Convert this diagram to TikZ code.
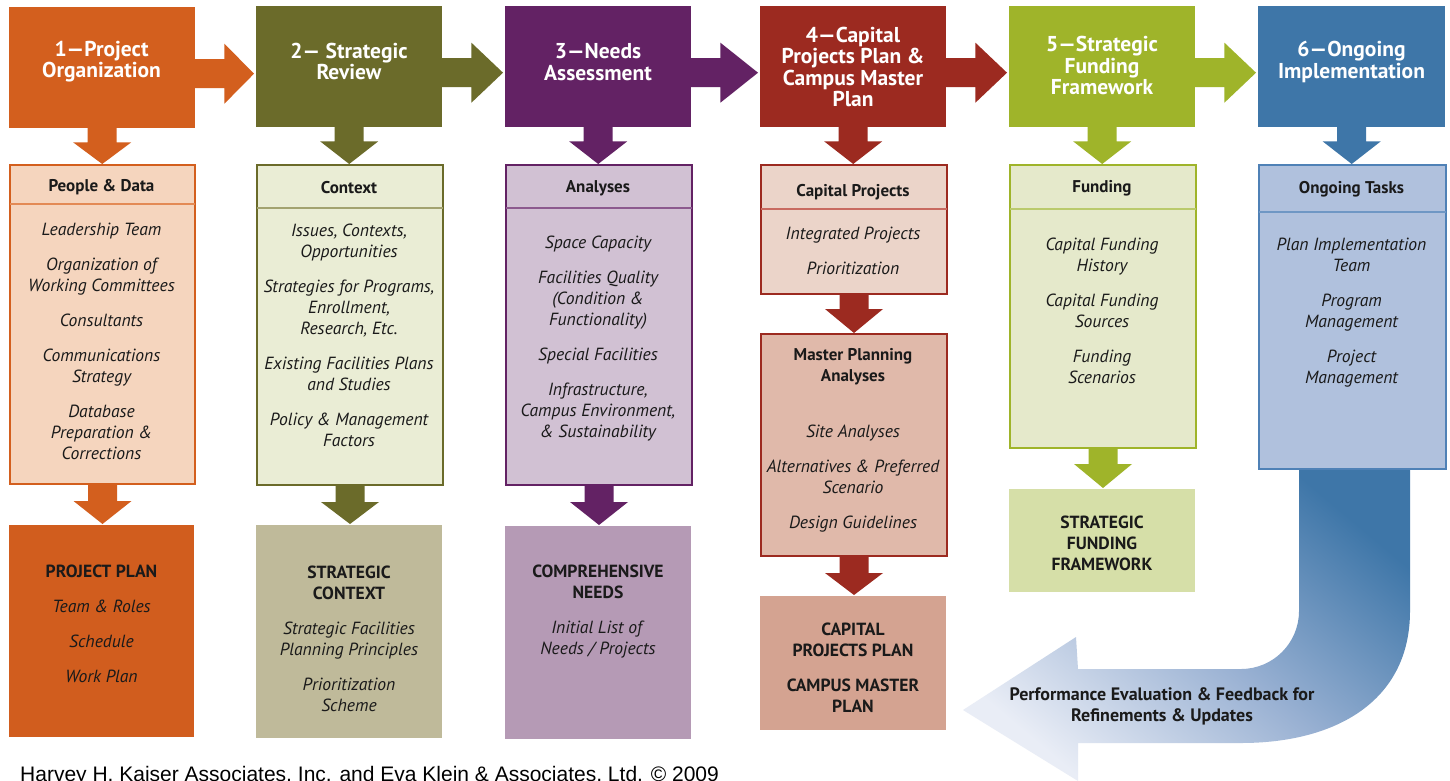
\documentclass[tikz,border=0pt]{standalone}
\usepackage{fontspec}
\setmainfont{PT Sans}
\newfontfamily\footfont{Liberation Sans}
\usetikzlibrary{calc}
\definecolor{cA}{HTML}{D35F1E}\definecolor{cAm}{HTML}{F5D5BE}\definecolor{cAl}{HTML}{E38A55}\definecolor{cAb}{HTML}{D15D1E}
\definecolor{cB}{HTML}{6B6B2A}\definecolor{cBm}{HTML}{EAEDD5}\definecolor{cBl}{HTML}{A3A370}\definecolor{cBb}{HTML}{BFBA9A}
\definecolor{cC}{HTML}{632264}\definecolor{cCm}{HTML}{D1C1D3}\definecolor{cCl}{HTML}{8C5A8E}\definecolor{cCb}{HTML}{B59AB5}
\definecolor{cD}{HTML}{9C2A20}\definecolor{cDm}{HTML}{EBD4C9}\definecolor{cDn}{HTML}{E0B9AA}\definecolor{cDl}{HTML}{C86A60}\definecolor{cDb}{HTML}{D4A391}
\definecolor{cE}{HTML}{9FB42A}\definecolor{cEm}{HTML}{E5E9CB}\definecolor{cEl}{HTML}{BACA6C}\definecolor{cEb}{HTML}{D6DFA8}
\definecolor{cF}{HTML}{3E76A8}\definecolor{cFm}{HTML}{B0C1DD}\definecolor{cFd}{HTML}{4F81B6}\definecolor{cFl}{HTML}{6F97C4}
\definecolor{cFlight}{HTML}{E9EDF6}\definecolor{cFmid}{HTML}{98B0D2}\definecolor{txt}{HTML}{1A1A1A}
\newcommand\darr[4]{%
  \fill[#3] ($(#1.south)+(-14.5,-1)$) -- ($(#1.south)+(-14.5,#4)$) -- ($(#1.south)+(-29,#4)$)
   -- ($(#1.south |- #2.north)+(0,-1)$) -- ($(#1.south)+(29,#4)$) -- ($(#1.south)+(14.5,#4)$)
   -- ($(#1.south)+(14.5,-1)$) -- cycle;}
\newcommand\rarr[3]{%
  \fill[#3] ($(#1.east)+(-1,-8.5)$) -- ($(#1.east)+(29,-8.5)$) -- ($(#1.east)+(29,-24)$)
   -- ($(#2.west |- #1.east)+(-2,6)$) -- ($(#1.east)+(29,36)$) -- ($(#1.east)+(29,20.5)$)
   -- ($(#1.east)+(-1,20.5)$) -- cycle;}
\begin{document}
\begin{tikzpicture}[x=1pt,y=-1pt,
  hbox/.style={fill=#1, anchor=north west, minimum width=186, minimum height=121, inner sep=0},
  mbox/.style={anchor=north west, line width=2pt, inner sep=0},
  bbox/.style={fill=#1, anchor=north west, inner sep=0},
  htext/.style={text=white, align=center, inner sep=0, font=\bfseries\fontsize{21.5}{21.5}\selectfont},
  mhead/.style={text=txt, align=center, inner sep=0, font=\bfseries\fontsize{17}{21}\selectfont},
  mbody/.style={text=txt, align=center, inner sep=0, font=\itshape\fontsize{17.6}{21}\selectfont},
  bhead/.style={text=txt, align=center, inner sep=0, font=\fontsize{17.6}{21}\selectfont},
  fbhead/.style={text=txt, align=center, inner sep=0, font=\bfseries\fontsize{18}{21}\selectfont},
]
\useasboundingbox (0,0) rectangle (1450,780);
\fill[white] (0,0) rectangle (1450,780);

% header boxes
\node[hbox=cA] (h1) at (9,7) {};
\node[hbox=cB] (h2) at (256,6) {};
\node[hbox=cC] (h3) at (505,6) {};
\node[hbox=cD] (h4) at (760,6) {};
\node[hbox=cE] (h5) at (1009,6) {};
\node[hbox=cF, minimum width=187] (h6) at (1258,6) {};

% middle boxes (nodes defined first, drawn after arrows)
\path node[mbox, minimum width=183, minimum height=317] (m1) at (10,165) {}
      node[mbox, minimum width=184, minimum height=318] (m2) at (257,165) {}
      node[mbox, minimum width=184, minimum height=318] (m3) at (506,165) {}
      node[mbox, minimum width=184, minimum height=127] (m4a) at (761,165) {}
      node[mbox, minimum width=184, minimum height=220] (m4b) at (761,334) {}
      node[mbox, minimum width=184, minimum height=281] (m5) at (1010,165) {}
      node[mbox, minimum width=185, minimum height=302] (m6) at (1259,165) {};

% bottom boxes
\node[bbox=cAb, minimum width=185, minimum height=212] (b1) at (9,525) {};
\node[bbox=cBb, minimum width=186, minimum height=213] (b2) at (256,525) {};
\node[bbox=cCb, minimum width=186, minimum height=213] (b3) at (505,526) {};
\node[bbox=cDb, minimum width=186, minimum height=134] (b4) at (760,596) {};
\node[bbox=cEb, minimum width=186, minimum height=103] (b5) at (1009,489) {};

% feedback arrow
\begin{scope}[shift={(m6.south)}]
\coordinate (fbtip) at (-389.5,241);
\shade[top color=cF, bottom color=cFlight, middle color=cFmid, shading angle=-40]
  (-53.5,-1) -- (-53.5,142) arc[start angle=0, end angle=90, radius=58]
  -- (-274.5,200) -- (-276.5,168) -- (fbtip) -- (-274.5,312) -- (-274.5,274)
  -- (-111.5,274) .. controls (-16.5,274) and (57.5,232) .. (57.5,142) -- (57.5,-1) -- cycle;
\end{scope}

% right arrows
\rarr{h1}{h2}{cA}
\rarr{h2}{h3}{cB}
\rarr{h3}{h4}{cC}
\rarr{h4}{h5}{cD}
\rarr{h5}{h6}{cE}

% down arrows
\darr{h1}{m1}{cA}{14}
\darr{h2}{m2}{cB}{14}
\darr{h3}{m3}{cC}{14}
\darr{h4}{m4a}{cD}{14}
\darr{h5}{m5}{cE}{14}
\darr{h6}{m6}{cF}{14}
\darr{m1}{b1}{cA}{17}
\darr{m2}{b2}{cB}{17}
\darr{m3}{b3}{cC}{17}
\darr{m4a}{m4b}{cD}{15}
\darr{m4b}{b4}{cD}{17}
\darr{m5}{b5}{cE}{16}

% draw middle boxes
\draw[line width=2pt, draw=cA, fill=cAm] (m1.north west) rectangle (m1.south east);
\draw[line width=2pt, draw=cB, fill=cBm] (m2.north west) rectangle (m2.south east);
\draw[line width=2pt, draw=cC, fill=cCm] (m3.north west) rectangle (m3.south east);
\draw[line width=2pt, draw=cD, fill=cDm] (m4a.north west) rectangle (m4a.south east);
\draw[line width=2pt, draw=cD, fill=cDn] (m4b.north west) rectangle (m4b.south east);
\draw[line width=2pt, draw=cE, fill=cEm] (m5.north west) rectangle (m5.south east);
\draw[line width=2pt, draw=cFd, fill=cFm] (m6.north west) rectangle (m6.south east);
% dividers
\draw[line width=1.3pt, cAl] ($(m1.north west)+(0,39)$) -- ($(m1.north east)+(0,39)$);
\draw[line width=1.3pt, cBl] ($(m2.north west)+(0,43)$) -- ($(m2.north east)+(0,43)$);
\draw[line width=1.3pt, cCl] ($(m3.north west)+(0,43)$) -- ($(m3.north east)+(0,43)$);
\draw[line width=1.3pt, cDl] ($(m4a.north west)+(0,44)$) -- ($(m4a.north east)+(0,44)$);
\draw[line width=1.3pt, cEl] ($(m5.north west)+(0,44)$) -- ($(m5.north east)+(0,44)$);
\draw[line width=1.3pt, cFl] ($(m6.north west)+(0,47)$) -- ($(m6.north east)+(0,47)$);

% header texts
\node[htext] (t1) at (101.5,61.5) {1—Project\\Organization};
\node[htext] (t2) at (349,61.5) {2— Strategic\\Review};
\node[htext] (t3) at (598,62) {3—Needs\\Assessment};
\node[htext] (t4) at (853,67) {4—Capital\\Projects Plan \&\\Campus Master\\Plan};
\node[htext] (t5) at (1102,65.5) {5—Strategic\\Funding\\Framework};
\node[htext] (t6) at (1351.5,62) {6—Ongoing\\Implementation};

% middle headings
\node[mhead] (m1h) at (101.5,187) {People \& Data};
\node[mhead] (m2h) at (349,188) {Context};
\node[mhead] (m3h) at (598,188) {Analyses};
\node[mhead] (m4ah) at (853,192) {Capital Projects};
\node[mhead] (m4bh) at (853,367) {Master Planning\\Analyses};
\node[mhead] (m5h) at (1102,188) {Funding};
\node[mhead] (m6h) at (1351.5,189) {Ongoing Tasks};

% middle bodies
\node[mbody] (m1t) at (101.5,341) {Leadership Team\\[14pt]Organization of\\Working Committees\\[14pt]Consultants\\[14pt]Communications\\Strategy\\[14pt]Database\\Preparation \&\\Corrections};
\node[mbody] (m2t) at (349,335.5) {Issues, Contexts,\\Opportunities\\[14pt]Strategies for Programs,\\Enrollment,\\Research, Etc.\\[14pt]Existing Facilities Plans\\and Studies\\[14pt]Policy \& Management\\Factors};
\node[mbody] (m3t) at (598,339) {Space Capacity\\[14pt]Facilities Quality\\(Condition \&\\Functionality)\\[14pt]Special Facilities\\[14pt]Infrastructure,\\Campus Environment,\\\& Sustainability};
\node[mbody] (m4at) at (853,251) {Integrated Projects\\[14pt]Prioritization};
\node[mbody] (m4bt) at (853,479) {Site Analyses\\[14pt]Alternatives \& Preferred\\Scenario\\[14pt]Design Guidelines};
\node[mbody] (m5t) at (1102,311) {Capital Funding\\History\\[14pt]Capital Funding\\Sources\\[14pt]Funding\\Scenarios};
\node[mbody] (m6t) at (1351.5,312.5) {Plan Implementation\\Team\\[14pt]Program\\Management\\[14pt]Project\\Management};

% bottom texts
\node[bhead] (b1t) at (101.5,624) {\textbf{PROJECT PLAN}\\[14pt]\textit{Team \& Roles}\\[14pt]\textit{Schedule}\\[14pt]\textit{Work Plan}};
\node[bhead] (b2t) at (349,639) {\textbf{STRATEGIC}\\\textbf{CONTEXT}\\[14pt]\textit{Strategic Facilities}\\\textit{Planning Principles}\\[14pt]\textit{Prioritization}\\\textit{Scheme}};
\node[bhead] (b3t) at (598,612) {\textbf{COMPREHENSIVE}\\\textbf{NEEDS}\\[14pt]\textit{Initial List of}\\\textit{Needs / Projects}};
\node[bhead] (b4t) at (853,668) {\textbf{CAPITAL}\\\textbf{PROJECTS PLAN}\\[14pt]\textbf{CAMPUS MASTER}\\\textbf{PLAN}};
\node[bhead] (b5t) at (1102,543.5) {\textbf{STRATEGIC}\\\textbf{FUNDING}\\\textbf{FRAMEWORK}};

% feedback text
\node[fbhead] (fbt) at (1162,706) {Performance Evaluation \& Feedback for\\Refinements \& Updates};

% footer
\node[anchor=base west, inner sep=0, text=black, font=\footfont\fontsize{21}{22}\selectfont] (foot) at (20,781.5) {Harvey H. Kaiser Associates, Inc. and Eva Klein \& Associates, Ltd. © 2009};
\end{tikzpicture}
\end{document}
